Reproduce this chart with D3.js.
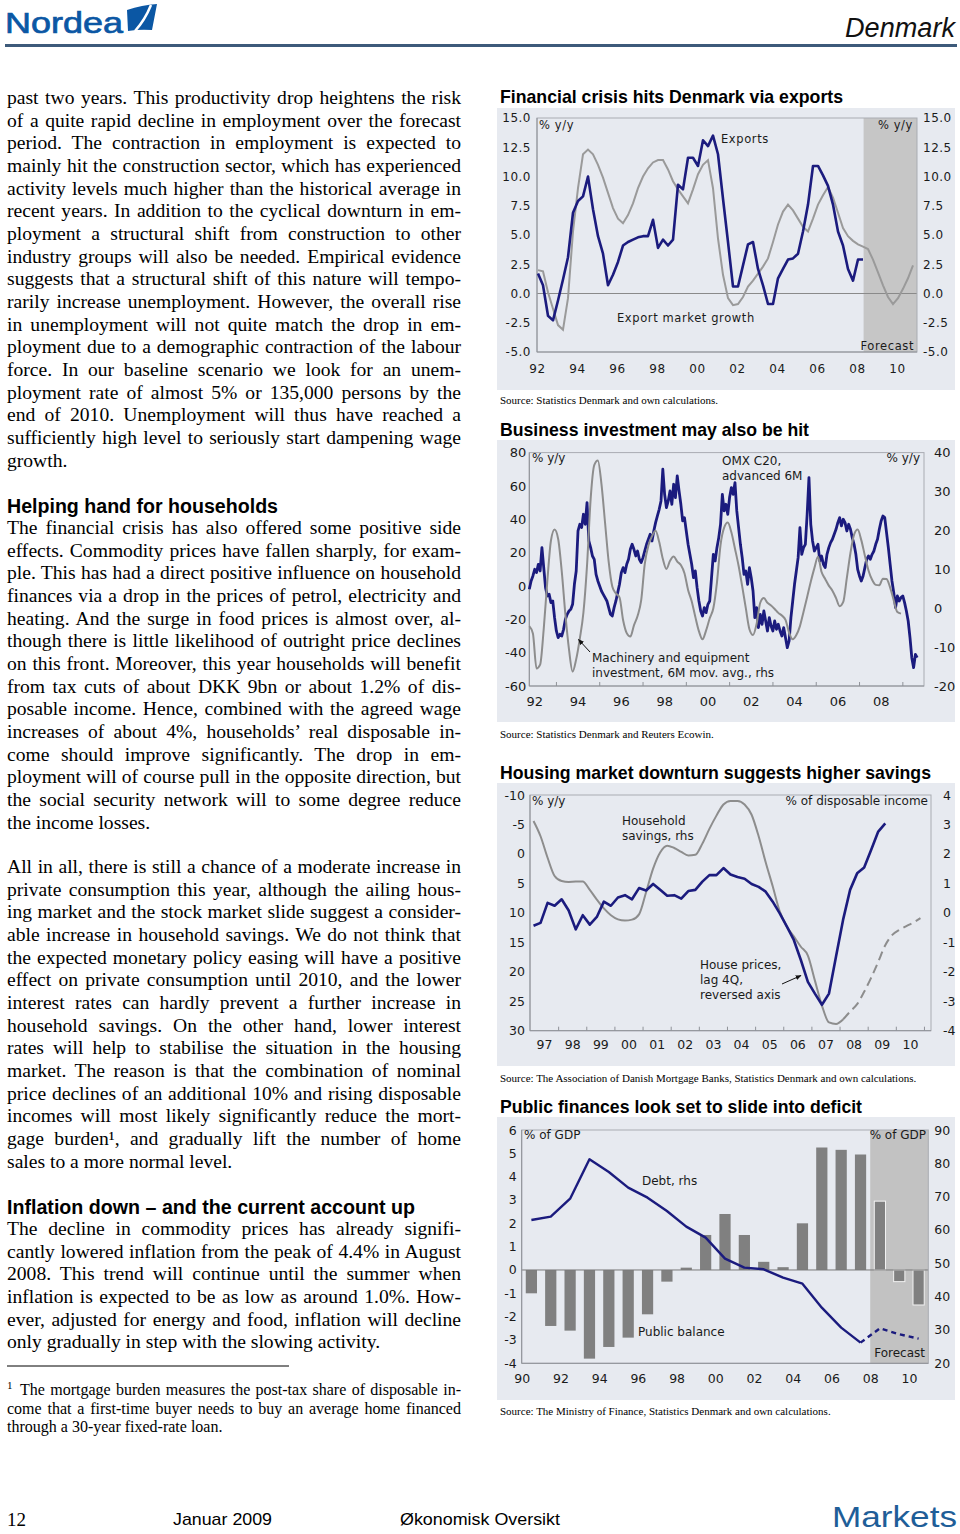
<!DOCTYPE html>
<html><head><meta charset="utf-8">
<script src="https://cdn.jsdelivr.net/npm/d3@7/dist/d3.min.js"></script>
<style>html,body{margin:0;padding:0;background:#fff;}svg{display:block;}</style>
</head><body>
<script>
// ================= DATA =================
// Chart 1: Financial crisis hits Denmark via exports (quarterly, % y/y)
const exportsGrowth = [1.7,0.7,-1.9,-2.3,-0.6,1.2,3.1,6.9,7.9,8.3,10.0,7.2,4.9,3.4,0.7,1.6,2.7,4.1,4.4,4.6,4.8,4.9,4.9,6.3,3.9,4.6,4.1,4.6,9.3,8.9,11.6,11.6,10.9,13.1,12.6,13.5,11.9,8.1,4.4,0.6,0.6,2.4,4.2,4.4,2.1,0.7,-0.9,-0.9,1.3,2.1,2.9,3.0,3.4,5.3,7.6,10.9,10.9,10.1,9.2,7.6,5.3,4.1,2.1,1.1,2.9,2.9];
const exportMarketGrowth = [2.0,1.9,0.1,-1.3,-2.7,-3.1,-0.4,5.3,9.0,11.9,12.3,11.9,11.0,9.9,8.6,7.3,6.4,6.0,6.7,7.7,9.0,10.0,10.7,11.2,11.4,11.4,10.6,9.6,8.9,8.3,7.7,8.9,10.2,11.0,11.4,9.0,4.7,1.6,-0.4,-1.0,-0.9,-0.3,0.6,1.1,1.7,2.3,3.0,4.4,5.9,7.0,7.6,7.1,6.4,5.7,5.3,6.4,7.6,8.4,9.1,8.2,6.9,5.6,4.9,4.5,4.2,4.0,3.8,2.9,1.8,0.7,-0.3,-0.9,-0.4,0.4,1.3,2.4];
const chart1Start = 1992.05;
const chart1Forecast = 2008.33;
const yTicks1 = [-5,-2.5,0,2.5,5,7.5,10,12.5,15];
const xTicks1 = [1992,1994,1996,1998,2000,2002,2004,2006,2008,2010];

// Chart 2: Business investment may also be hit
// OMX C20 advanced 6M, % y/y (monthly)
const omxC20 = [-2,3,6,10,8,13,9,23,11,-1,
 -6,-5,-10,-9,-19,-27,-31,-29,-30,-26,
 -20,-17,-15,-14,-11,1,9,33,37,35,
 43,37,50,27,23,18,16,7,3,0,
 -3,-5,-7,-9,-13,-17,-18,-13,-9,-4,
 1,8,11,8,13,16,22,25,22,18,
 21,16,14,17,21,25,28,31,27,33,
 38,42,46,51,70,55,47,51,57,49,
 61,53,66,57,49,39,41,33,25,19,
 13,5,9,-1,-9,-15,-18,-13,-16,-11,
 -9,5,19,15,23,29,37,55,45,49,
 43,53,59,55,62,45,35,25,17,7,
 9,1,11,5,-3,-19,-13,-25,-17,-23,
 -15,-21,-27,-19,-24,-27,-21,-26,-23,-27,
 -30,-25,-31,-37,-33,-19,-9,1,9,17,
 35,19,23,25,43,65,37,27,21,23,
 25,15,18,13,11,19,23,26,28,31,
 34,38,41,36,40,38,33,37,34,29,
 25,19,10,6,3,6,11,16,18,16,
 19,21,25,28,34,39,42,41,32,23,
 13,3,-4,-13,-6,-9,-7,-6,-10,-15,
 -21,-31,-43,-49,-41,-43];
const omxStart = 1991.77;           // first month
// Machinery and equipment investment, 6M mov. avg., rhs (every 2 months)
const machinery = [-4.6,-6.5,-15.5,-14.5,-5.3,7.0,17.4,20.2,17.8,9.4,
 -1.6,-10.6,-16.3,-13.1,-7.8,-1.1,11.0,28.1,36.8,38.0,
 31.9,21.9,11.9,5.6,3.8,2.8,-3.1,-6.4,-7.3,-4.4,
 -2.0,2.0,11.4,16.1,18.5,19.9,17.0,12.7,10.1,12.2,
 13.3,12.0,11.1,9.0,4.7,1.8,-2.2,-5.9,-8.0,-5.7,
 -2.6,0.0,6.6,16.3,20.7,22.0,19.5,15.3,10.9,5.6,
 0.0,-5.4,-6.9,-4.0,1.4,2.6,1.4,0.7,-0.2,-1.2,
 -1.9,-3.0,-6.3,-8.0,-6.9,-4.6,-0.9,2.9,6.8,10.3,
 13.2,9.3,7.5,5.8,4.5,2.6,0.5,1.6,7.8,14.2,
 18.9,20.2,17.5,13.5,9.7,7.3,6.0,5.9,7.6,7.5,
 5.3,2.0,-1.0,-1.4];
const machineryStart = 1991.77;
const yTicks2L = [-60,-40,-20,0,20,40,60,80];
const yTicks2R = [-20,-10,0,10,20,30,40];
const xTicks2 = [1992,1994,1996,1998,2000,2002,2004,2006,2008];

// Chart 3: Housing market downturn suggests higher savings (quarterly)
const housePrices = [12.2,11.7,8.3,8.8,7.7,9.6,12.8,10.4,12.0,10.7,8.1,8.8,7.4,7.0,7.7,5.8,6.2,5.1,6.1,7.1,7.0,7.6,6.3,6.1,4.7,3.6,3.6,2.4,3.5,3.9,4.2,5.1,5.6,6.4,8.1,10.1,12.3,14.6,18.0,21.7,23.7,25.6,23.7,17.4,11.2,6.1,3.3,2.3,-0.7,-3.8,-5.2];
const householdSavings = [3.12,2.6,1.87,1.25,1.08,1.05,1.06,1.06,0.78,0.45,0.15,-0.08,-0.22,-0.26,-0.23,-0.05,0.7,1.5,2.05,2.28,2.2,2.07,1.95,1.97,2.35,2.85,3.3,3.68,3.8,3.8,3.68,3.33,2.6,1.72,0.9,0.05,-0.46,-0.8,-1.15,-1.45,-2.3,-3.15,-3.72,-3.77,-3.62,-3.35,-3.1,-2.68,-2.2,-1.66,-1.1,-0.75,-0.58,-0.45,-0.33,-0.18];
const chart3Start = 1997.125;
const savingsForecastIndex = 44;
const yTicks3L = [-10,-5,0,5,10,15,20,25,30];
const yTicks3R = [-4,-3,-2,-1,0,1,2,3,4];
const xYears3 = [1997,1998,1999,2000,2001,2002,2003,2004,2005,2006,2007,2008,2009,2010];

// Chart 4: Public finances look set to slide into deficit (annual)
const years4 = [1990,1991,1992,1993,1994,1995,1996,1997,1998,1999,2000,2001,2002,2003,2004,2005,2006,2007,2008,2009,2010];
const publicBalance = [-1.0,-2.4,-2.6,-3.8,-3.3,-2.9,-1.9,-0.5,0.1,1.5,2.4,1.5,0.35,0.12,2.0,5.25,5.15,4.95,2.95,-0.5,-1.5];
const debt = [63.0,64.0,69.4,81.2,77.4,72.7,69.7,65.7,61.0,57.7,51.4,48.7,48.2,45.7,43.9,36.7,30.7,26.2,30.5,28.7,27.4];
const forecastYear4 = 2008;
const debtForecastFrom = 2007;
const yTicks4L = [-4,-3,-2,-1,0,1,2,3,4,5,6];
const yTicks4R = [20,30,40,50,60,70,80,90];
const xTicks4 = [1990,1992,1994,1996,1998,2000,2002,2004,2006,2008,2010];

// ================= TEXT =================
const para1 = [
"past two years. This productivity drop heightens the risk",
"of a quite rapid decline in employment over the forecast",
"period. The contraction in employment is expected to",
"mainly hit the construction sector, which has experienced",
"activity levels much higher than the historical average in",
"recent years. In addition to the cyclical downturn in em-",
"ployment a structural shift from construction to other",
"industry groups will also be needed. Empirical evidence",
"suggests that a structural shift of this nature will tempo-",
"rarily increase unemployment. However, the overall rise",
"in unemployment will not quite match the drop in em-",
"ployment due to a demographic contraction of the labour",
"force. In our baseline scenario we look for an unem-",
"ployment rate of almost 5% or 135,000 persons by the",
"end of 2010. Unemployment will thus have reached a",
"sufficiently high level to seriously start dampening wage",
"growth."];
const para2 = [
"The financial crisis has also offered some positive side",
"effects. Commodity prices have fallen sharply, for exam-",
"ple. This has had a direct positive influence on household",
"finances via a drop in the prices of petrol, electricity and",
"heating. And the surge in food prices is almost over, al-",
"though there is little likelihood of outright price declines",
"on this front. Moreover, this year households will benefit",
"from tax cuts of about DKK 9bn or about 1.2% of dis-",
"posable income. Hence, combined with the agreed wage",
"increases of about 4%, households\u2019 real disposable in-",
"come should improve significantly. The drop in em-",
"ployment will of course pull in the opposite direction, but",
"the social security network will to some degree reduce",
"the income losses."];
const para3 = [
"All in all, there is still a chance of a moderate increase in",
"private consumption this year, although the ailing hous-",
"ing market and the stock market slide suggest a consider-",
"able increase in household savings. We do not think that",
"the expected monetary policy easing will have a positive",
"effect on private consumption until 2010, and the lower",
"interest rates can hardly prevent a further increase in",
"household savings. On the other hand, lower interest",
"rates will help to stabilise the situation in the housing",
"market. The reason is that the combination of nominal",
"price declines of an additional 10% and rising disposable",
"incomes will most likely significantly reduce the mort-",
"gage burden\u00b9, and gradually lift the number of home",
"sales to a more normal level."];
const para4 = [
"The decline in commodity prices has already signifi-",
"cantly lowered inflation from the peak of 4.4% in August",
"2008. This trend will continue until the summer when",
"inflation is expected to be as low as around 1.0%. How-",
"ever, adjusted for energy and food, inflation will decline",
"only gradually in step with the slowing activity."];
const footnote = [
"The mortgage burden measures the post-tax share of disposable in-",
"come that a first-time buyer needs to buy an average home financed",
"through a 30-year fixed-rate loan."];

// ================= DRAWING =================
const BG = '#e7eaf0', NAVY = '#1b1b7e', GREY = '#8d8d8d', SHADE = '#c6c6c6';
const CF = 'DejaVu Sans, Verdana, sans-serif';
const SERIF = 'Liberation Serif, Times New Roman, serif';
const SANS = 'Liberation Sans, Arial, sans-serif';

const svg = d3.select('body').append('svg').attr('width',960).attr('height',1534);
const defs = svg.append('defs');
defs.append('marker').attr('id','arr').attr('viewBox','0 0 10 10').attr('refX',9).attr('refY',5)
  .attr('markerWidth',6).attr('markerHeight',6).attr('orient','auto')
  .append('path').attr('d','M0,1 L10,5 L0,9 Z').attr('fill','#111');

function txt(g, x, y, s, o = {}) {
  const t = g.append('text').attr('x', x).attr('y', y).text(s)
    .attr('font-family', o.ff || CF).attr('font-size', o.fs || 12).attr('fill', o.fill || '#1a1a1a');
  if (o.anchor) t.attr('text-anchor', o.anchor);
  if (o.fw) t.attr('font-weight', o.fw);
  if (o.fst) t.attr('font-style', o.fst);
  if (o.ls) t.attr('letter-spacing', o.ls);
  if (o.tl) t.attr('textLength', o.tl).attr('lengthAdjust', 'spacingAndGlyphs');
  return t;
}
function justified(lines, x, y0, step, width, fs, justifyLast) {
  lines.forEach((ln, i) => {
    const t = svg.append('text').attr('x', x).attr('y', y0 + i * step)
      .attr('font-family', SERIF).attr('font-size', fs).attr('fill', '#000').text(ln);
    if (i < lines.length - 1 || justifyLast) {
      const w = t.node().getComputedTextLength();
      const n = (ln.match(/ /g) || []).length;
      if (n > 0) t.attr('word-spacing', ((width - w) / n).toFixed(2));
    }
  });
}
function styleAxis(sel, fs, ls) {
  sel.select('.domain').remove();
  sel.selectAll('text').attr('font-family', CF).attr('font-size', fs).attr('fill', '#1a1a1a');
  if (ls) sel.selectAll('text').attr('letter-spacing', ls);
}
const yy = d => String(Math.floor(d + 0.001) % 100).padStart(2, '0');
const f1 = d => d3.format('.1f')(d).replace('\u2212', '-');
const f0 = d => String(d);

// ---------- Header ----------
txt(svg, 5, 33, 'Nordea', {ff: SANS, fs: 29, fill: '#0b57a4', tl: 118}).attr('stroke', '#0b57a4').attr('stroke-width', 0.7);
svg.append('path').attr('d', 'M127,10 Q142,5 157,4 L152,30 Q140,29 128,31 Z').attr('fill', '#0b57a4');
svg.append('path').attr('d', 'M135,31 Q145,20 151,5').attr('fill', 'none').attr('stroke', '#fff').attr('stroke-width', 2.5);
txt(svg, 955, 37, 'Denmark', {ff: SANS, fs: 27, fill: '#111', anchor: 'end', fst: 'italic', tl: 110});
svg.append('rect').attr('x', 5).attr('y', 44).attr('width', 952).attr('height', 3).attr('fill', '#3d5a7a');

// ---------- Left column text ----------
justified(para1, 7, 104, 22.67, 454, 19.6);
txt(svg, 7, 513, 'Helping hand for households', {ff: SANS, fs: 19.5, fw: 'bold', fill: '#000', tl: 271});
justified(para2, 7, 534, 22.67, 454, 19.6);
justified(para3, 7, 873, 22.67, 454, 19.6);
txt(svg, 7, 1214, 'Inflation down \u2013 and the current account up', {ff: SANS, fs: 19.5, fw: 'bold', fill: '#000', tl: 408});
justified(para4, 7, 1235, 22.67, 454, 19.6);
svg.append('line').attr('x1', 7).attr('x2', 289).attr('y1', 1366).attr('y2', 1366).attr('stroke', '#000').attr('stroke-width', 1);
txt(svg, 7, 1389, '1', {ff: SERIF, fs: 11, fill: '#000'});
justified([footnote[0]], 20, 1395, 18.5, 441, 16, true);
justified(footnote.slice(1), 7, 1413.5, 18.5, 454, 16);

// ---------- Footer ----------
txt(svg, 7, 1526, '12', {ff: SERIF, fs: 19, fill: '#000'});
txt(svg, 173, 1525, 'Januar 2009', {ff: SANS, fs: 17, fill: '#000', tl: 99});
txt(svg, 400, 1525, '\u00d8konomisk Oversikt', {ff: SANS, fs: 17, fill: '#000', tl: 160});
txt(svg, 832, 1527, 'Markets', {ff: SANS, fs: 29, fill: '#1f5e98', tl: 125});

// ---------- Chart titles and sources ----------
txt(svg, 500, 103, 'Financial crisis hits Denmark via exports', {ff: SANS, fs: 17.7, fw: 'bold', fill: '#000', tl: 343});
txt(svg, 500, 404, 'Source: Statistics Denmark and own calculations.', {ff: SERIF, fs: 11, fill: '#000'});
txt(svg, 500, 436, 'Business investment may also be hit', {ff: SANS, fs: 17.7, fw: 'bold', fill: '#000', tl: 309});
txt(svg, 500, 738, 'Source: Statistics Denmark and Reuters Ecowin.', {ff: SERIF, fs: 11, fill: '#000'});
txt(svg, 500, 779, 'Housing market downturn suggests higher savings', {ff: SANS, fs: 17.7, fw: 'bold', fill: '#000', tl: 431});
txt(svg, 500, 1082, 'Source: The Association of Danish Mortgage Banks, Statistics Denmark and own calculations.', {ff: SERIF, fs: 11, fill: '#000'});
txt(svg, 500, 1113, 'Public finances look set to slide into deficit', {ff: SANS, fs: 17.7, fw: 'bold', fill: '#000', tl: 362});
txt(svg, 500, 1415, 'Source: The Ministry of Finance, Statistics Denmark and own calculations.', {ff: SERIF, fs: 11, fill: '#000'});

function panel(y0, y1) {
  svg.append('rect').attr('x', 497).attr('y', y0).attr('width', 458).attr('height', y1 - y0).attr('fill', BG);
}
function frame(g, x0, x1, y0, y1) {
  g.append('rect').attr('x', x0).attr('y', y0).attr('width', x1 - x0).attr('height', y1 - y0)
    .attr('fill', 'none').attr('stroke', '#a9acb2').attr('stroke-width', 1);
  g.append('line').attr('x1', x0).attr('x2', x0).attr('y1', y0).attr('y2', y1).attr('stroke', '#8f9298');
  g.append('line').attr('x1', x0).attr('x2', x1).attr('y1', y1).attr('y2', y1).attr('stroke', '#8f9298');
}

// ---------- Chart 1 ----------
{
  panel(108, 390);
  const g = svg.append('g');
  const L = 537, R = 917, T = 118, B = 352;
  const x = d3.scaleLinear().domain([1992, 2011]).range([L, R]);
  const y = d3.scaleLinear().domain([-5, 15]).range([B, T]);
  g.append('rect').attr('x', x(chart1Forecast)).attr('y', T).attr('width', R - x(chart1Forecast)).attr('height', B - T).attr('fill', SHADE);
  g.append('line').attr('x1', L).attr('x2', R).attr('y1', y(0)).attr('y2', y(0)).attr('stroke', '#8a8a8a');
  frame(g, L, R, T, B);
  const line = d3.line().x(d => x(d[0])).y(d => y(d[1]));
  g.append('path').datum(exportMarketGrowth.map((v, i) => [chart1Start + i / 4, v])).attr('d', line)
    .attr('fill', 'none').attr('stroke', '#9a9a9a').attr('stroke-width', 2);
  g.append('path').datum(exportsGrowth.map((v, i) => [chart1Start + i / 4, v])).attr('d', line)
    .attr('fill', 'none').attr('stroke', NAVY).attr('stroke-width', 2.6).attr('stroke-linejoin', 'round');
  g.append('g').attr('transform', `translate(${L},0)`).call(d3.axisLeft(y).tickValues(yTicks1).tickFormat(f1).tickSize(0).tickPadding(6)).call(s => styleAxis(s, 12, 0.5));
  g.append('g').attr('transform', `translate(${R},0)`).call(d3.axisRight(y).tickValues(yTicks1).tickFormat(f1).tickSize(0).tickPadding(6)).call(s => styleAxis(s, 12, 0.5));
  g.append('g').attr('transform', `translate(0,${B})`).call(d3.axisBottom(x).tickValues(xTicks1).tickFormat(yy).tickSize(0).tickPadding(12)).call(s => styleAxis(s, 12, 0.5));
  const o = {fs: 11.5, ls: 0.6};
  txt(g, 539, 129, '% y/y', o);
  txt(g, 913, 129, '% y/y', {...o, anchor: 'end'});
  txt(g, 721, 143, 'Exports', o);
  txt(g, 617, 322, 'Export market growth', o);
  txt(g, 914, 350, 'Forecast', {...o, anchor: 'end'});
}

// ---------- Chart 2 ----------
{
  panel(440, 722);
  const g = svg.append('g');
  const L = 529.3, R = 924, T = 452.6, B = 686;
  const x = d3.scaleLinear().domain([1991.77, 2010.0]).range([L, R]);
  const yL = d3.scaleLinear().domain([-60, 80]).range([B, T]);
  const yR = d3.scaleLinear().domain([-20, 40]).range([B, T]);
  frame(g, L, R, T, B);
  g.append('g').attr('transform', `translate(0,${B})`).call(d3.axisBottom(x).tickValues(d3.range(1993, 2010, 2)).tickSize(-4).tickFormat(''))
    .call(s => { s.select('.domain').remove(); s.selectAll('line').attr('stroke', '#8f9298'); });
  g.append('path').datum(omxC20.map((v, i) => [omxStart + i / 12, v]))
    .attr('d', d3.line().x(d => x(d[0])).y(d => yL(d[1])))
    .attr('fill', 'none').attr('stroke', NAVY).attr('stroke-width', 2.8).attr('stroke-linejoin', 'round');
  g.append('path').datum(machinery.map((v, i) => [machineryStart + i / 6, v]))
    .attr('d', d3.line().curve(d3.curveMonotoneX).x(d => x(d[0])).y(d => yR(d[1])))
    .attr('fill', 'none').attr('stroke', GREY).attr('stroke-width', 2);
  g.append('g').attr('transform', `translate(${L},0)`).call(d3.axisLeft(yL).tickValues(yTicks2L).tickFormat(f0).tickSize(0).tickPadding(3)).call(s => styleAxis(s, 13));
  g.append('g').attr('transform', `translate(${R},0)`).call(d3.axisRight(yR).tickValues(yTicks2R).tickFormat(f0).tickSize(0).tickPadding(10)).call(s => styleAxis(s, 13));
  g.append('g').attr('transform', `translate(0,${B})`).call(d3.axisBottom(x).tickValues(xTicks2).tickFormat(yy).tickSize(0).tickPadding(11)).call(s => styleAxis(s, 13));
  txt(g, 532, 462, '% y/y');
  txt(g, 920, 462, '% y/y', {anchor: 'end'});
  txt(g, 722, 465, 'OMX C20,');
  txt(g, 722, 480, 'advanced 6M');
  txt(g, 592, 662, 'Machinery and equipment');
  txt(g, 592, 677, 'investment, 6M mov. avg., rhs');
  g.append('line').attr('x1', 590).attr('y1', 652).attr('x2', 578.5).attr('y2', 639.5).attr('stroke', '#111').attr('stroke-width', 1).attr('marker-end', 'url(#arr)');
}

// ---------- Chart 3 ----------
{
  panel(783, 1066);
  const g = svg.append('g');
  const L = 530, R = 931, T = 795, B = 1030.7;
  const x = d3.scaleLinear().domain([1997.0, 2011.25]).range([L, R]);
  const yL = d3.scaleLinear().domain([-10, 30]).range([T, B]);   // reversed axis
  const yR = d3.scaleLinear().domain([-4, 4]).range([B, T]);
  frame(g, L, R, T, B);
  g.append('g').attr('transform', `translate(0,${B})`).call(d3.axisBottom(x).tickValues(d3.range(1998, 2012)).tickSize(-4).tickFormat(''))
    .call(s => { s.select('.domain').remove(); s.selectAll('line').attr('stroke', '#8f9298'); });
  const lineR = d3.line().curve(d3.curveMonotoneX).x(d => x(d[0])).y(d => yR(d[1]));
  const sav = householdSavings.map((v, i) => [chart3Start + i / 4, v]);
  g.append('path').datum(sav.slice(0, savingsForecastIndex + 1)).attr('d', lineR)
    .attr('fill', 'none').attr('stroke', GREY).attr('stroke-width', 2);
  g.append('path').datum(sav.slice(savingsForecastIndex)).attr('d', lineR)
    .attr('fill', 'none').attr('stroke', GREY).attr('stroke-width', 2).attr('stroke-dasharray', '9,5');
  g.append('path').datum(housePrices.map((v, i) => [chart3Start + i / 4, v]))
    .attr('d', d3.line().x(d => x(d[0])).y(d => yL(d[1])))
    .attr('fill', 'none').attr('stroke', NAVY).attr('stroke-width', 2.6).attr('stroke-linejoin', 'round');
  g.append('g').attr('transform', `translate(${L},0)`).call(d3.axisLeft(yL).tickValues(yTicks3L).tickFormat(f0).tickSize(0).tickPadding(5)).call(s => styleAxis(s, 12.5));
  g.append('g').attr('transform', `translate(${R},0)`).call(d3.axisRight(yR).tickValues(yTicks3R).tickFormat(f0).tickSize(0).tickPadding(12)).call(s => styleAxis(s, 12.5));
  g.append('g').attr('transform', `translate(0,${B})`).call(d3.axisBottom(x).tickValues(xYears3.map(v => v + 0.5)).tickFormat(yy).tickSize(0).tickPadding(9.5)).call(s => styleAxis(s, 12.5));
  txt(g, 532, 805, '% y/y');
  txt(g, 928, 805, '% of disposable income', {anchor: 'end'});
  txt(g, 622, 825, 'Household');
  txt(g, 622, 840, 'savings, rhs');
  txt(g, 700, 969, 'House prices,');
  txt(g, 700, 984, 'lag 4Q,');
  txt(g, 700, 999, 'reversed axis');
  g.append('line').attr('x1', 782).attr('y1', 984).attr('x2', 801).attr('y2', 975.5).attr('stroke', '#111').attr('stroke-width', 1).attr('marker-end', 'url(#arr)');
}

// ---------- Chart 4 ----------
{
  panel(1117, 1400);
  const g = svg.append('g');
  const L = 521.7, R = 928.3, T = 1130, B = 1363.3;
  const xb = d3.scaleBand().domain(years4).range([L, R]).paddingInner(0.42).paddingOuter(0.21);
  const xl = d3.scaleLinear().domain([1990, 2011]).range([L, R]);
  const yL = d3.scaleLinear().domain([-4, 6]).range([B, T]);
  const yR = d3.scaleLinear().domain([20, 90]).range([B, T]);
  g.append('rect').attr('x', xl(forecastYear4)).attr('y', T).attr('width', R - xl(forecastYear4)).attr('height', B - T).attr('fill', '#c2c2c2');
  g.selectAll('rect.bar').data(years4.map((yv, i) => ({year: yv, v: publicBalance[i]}))).enter().append('rect')
    .attr('class', 'bar')
    .attr('x', d => xb(d.year)).attr('width', xb.bandwidth())
    .attr('y', d => yL(Math.max(0, d.v))).attr('height', d => Math.abs(yL(d.v) - yL(0)))
    .attr('fill', '#808080')
    .attr('stroke', d => d.year >= forecastYear4 ? '#f2f2f2' : 'none').attr('stroke-width', 1);
  g.append('line').attr('x1', L).attr('x2', R).attr('y1', yL(0)).attr('y2', yL(0)).attr('stroke', '#7a7a7a');
  frame(g, L, R, T, B);
  const dl = d3.line().x(d => xb(d[0]) + xb.bandwidth() / 2).y(d => yR(d[1]));
  const dd = years4.map((yv, i) => [yv, debt[i]]);
  g.append('path').datum(dd.filter(d => d[0] <= debtForecastFrom)).attr('d', dl)
    .attr('fill', 'none').attr('stroke', NAVY).attr('stroke-width', 2.4).attr('stroke-linejoin', 'round');
  g.append('path').datum(dd.filter(d => d[0] >= debtForecastFrom)).attr('d', dl)
    .attr('fill', 'none').attr('stroke', NAVY).attr('stroke-width', 2.4).attr('stroke-dasharray', '5,4');
  g.append('g').attr('transform', `translate(${L},0)`).call(d3.axisLeft(yL).tickValues(yTicks4L).tickFormat(f0).tickSize(0).tickPadding(5)).call(s => styleAxis(s, 12.5));
  g.append('g').attr('transform', `translate(${R},0)`).call(d3.axisRight(yR).tickValues(yTicks4R).tickFormat(f0).tickSize(0).tickPadding(6)).call(s => styleAxis(s, 12.5));
  g.append('g').attr('transform', `translate(0,${B})`).call(d3.axisBottom(xl).tickValues(xTicks4).tickFormat(yy).tickSize(0).tickPadding(11)).call(s => styleAxis(s, 12.5));
  txt(g, 524, 1139, '% of GDP');
  txt(g, 926, 1139, '% of GDP', {anchor: 'end'});
  txt(g, 642, 1185, 'Debt, rhs');
  txt(g, 638, 1336, 'Public balance');
  txt(g, 925, 1357, 'Forecast', {anchor: 'end'});
}
</script>
</body></html>
